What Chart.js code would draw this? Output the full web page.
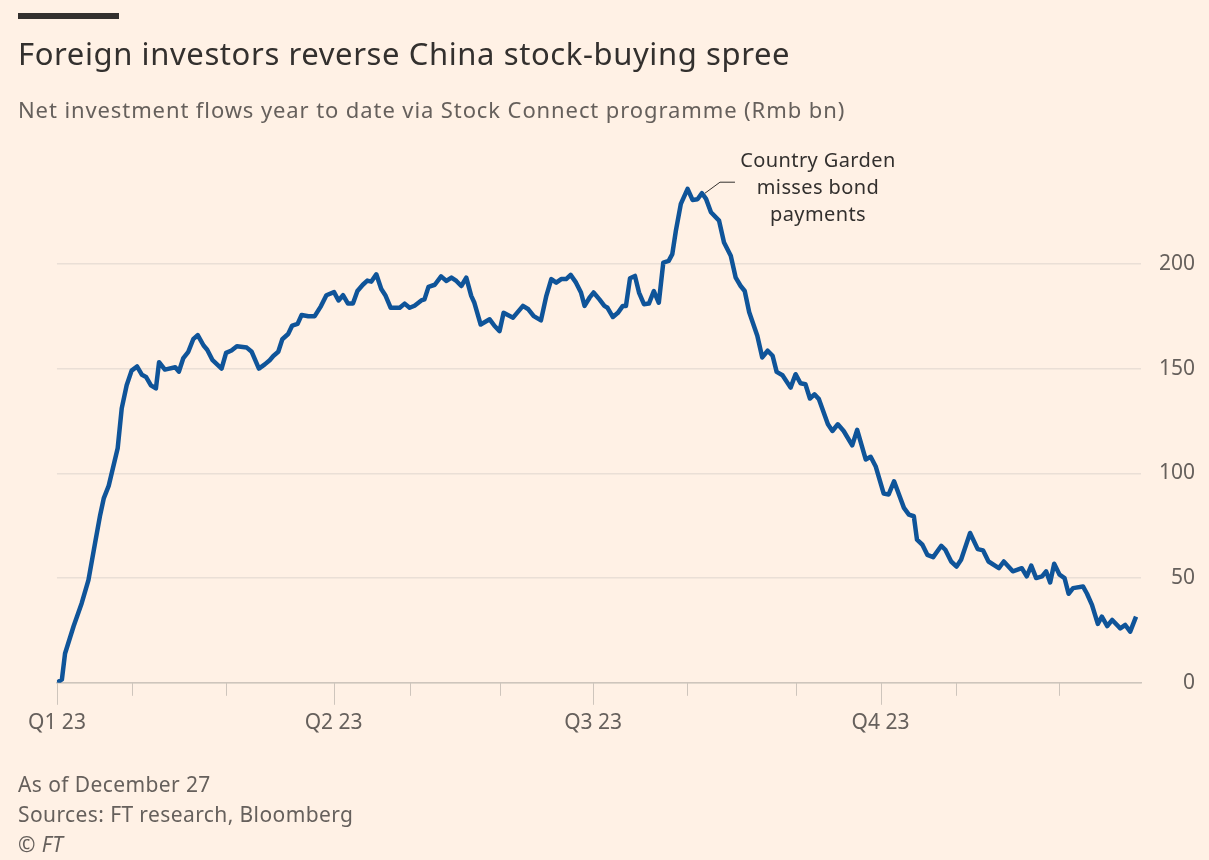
<!DOCTYPE html>
<html>
<head>
<meta charset="utf-8">
<script src="https://cdn.jsdelivr.net/npm/chart.js@4"></script>
<style>
  body { margin: 0; background: #fff1e5; font-family: "Noto Sans", sans-serif; }
  #page { position: relative; width: 1209px; height: 860px; overflow: hidden; }
  #bar { position: absolute; left: 18px; top: 13px; width: 101px; height: 6px; background: #33302e; }
  #title { position: absolute; left: 18px; top: 32px; font-size: 31px; letter-spacing: 0.6px; color: #33302e; white-space: nowrap; }
  #subtitle { position: absolute; left: 18px; top: 94px; font-size: 22px; letter-spacing: 0.9px; color: #66605c; white-space: nowrap; }
  #note { position: absolute; left: 698px; top: 146px; width: 240px; text-align: center; font-size: 20px; letter-spacing: 0.4px; line-height: 27px; color: #33302e; }
  #foot { position: absolute; left: 18px; top: 769px; font-size: 21px; letter-spacing: 0.4px; line-height: 30px; color: #66605c; }
  #wrap { position: absolute; left: 0; top: 0; width: 1209px; height: 860px; }
</style>
</head>
<body>
<div id="page">
  <div id="wrap"><canvas id="myChart"></canvas></div>
  <div id="bar"></div>
  <div id="title">Foreign investors reverse China stock-buying spree</div>
  <div id="subtitle">Net investment flows year to date via Stock Connect programme (Rmb bn)</div>
  <div id="note">Country Garden<br>misses bond<br>payments</div>
  <div id="foot">As of December 27<br>Sources: FT research, Bloomberg<br><i>© FT</i></div>
</div>
<script>
// x values are trading-day positions
var days = [0, 1.1, 1.8, 3.7, 5.5, 7, 8.5, 9.6, 10.4, 11.5, 13.5, 14.4, 15.5, 16.6, 17.8, 18.9, 19.8, 20.9, 22, 22.7,
	24, 26.3, 27.1, 28.1, 29.2, 30.3, 31.3, 32.6, 33.4, 34.6, 36.6, 37.6, 38.8, 40, 42.2, 43.3, 44.9, 46.2, 47.3, 48.1,
	49.2, 50.1, 51.4, 52.3, 53.5, 54.4, 55.9, 57.3, 58.7, 59.9, 61.6, 62.6, 63.6, 64.7, 65.8, 66.8, 68, 69, 69.9, 71,
	72.1, 73, 74.2, 76.2, 77.3, 78.4, 79.5, 81, 81.7, 82.6, 84, 85.4, 86.6, 87.7, 88.8, 89.9, 91, 92.1, 92.8, 94.2,
	96.2, 97.3, 98.4, 99.3, 101.4, 103.6, 104.8, 106, 107.6, 108.8, 109.9, 111, 112.1, 113.2, 114.2, 115.4, 116.5, 117.3, 118.4, 119.3,
	120.6, 121.7, 122.4, 123.6, 124.7, 125.8, 126.5, 127.4, 128.5, 129.4, 130.5, 131.6, 132.7, 133.8, 134.8, 136, 136.8, 137.6, 138.7, 140.2,
	141.3, 142.4, 143.4, 144.3, 145.4, 147.2, 148.3, 149.8, 150.9, 152, 152.9, 153.9, 155.7, 156.8, 158, 159.1, 160, 161.3, 163.1, 164.2,
	165.3, 166.4, 167.4, 168.4, 169.4, 171.4, 172.4, 173.6, 174.9, 176.8, 177.9, 179.8, 180.9, 182, 183.8, 184.9, 186.1, 188.3, 189.4, 190.5,
	191.2, 192.4, 193.5, 194.8, 196.6, 197.5, 198.8, 200, 201, 203, 204.7, 205.9, 207.1, 209.4, 210.5, 212.5, 214.5, 215.6, 216.6, 217.7,
	219, 219.9, 220.8, 221.7, 222.9, 224, 224.9, 225.9, 228.1, 229, 230.1, 231.4, 232.3, 233.5, 234.6, 236.4, 237.5, 238.6, 239.9];
var flows = [0, 1.6, 14, 27, 38, 49, 67, 80, 88, 94, 112, 131, 142, 149, 151, 147, 146, 142, 140.5, 153,
	149.5, 150.6, 148.5, 155, 158, 164, 166, 161, 159, 154, 150, 157.5, 158.6, 160.6, 160, 158, 150, 152, 154, 156,
	158, 164, 166.5, 170.5, 171.3, 175.6, 175, 175, 179.8, 185, 186.5, 182.5, 185, 181, 181, 187, 190, 192, 191.5, 195,
	188, 185, 179, 179, 181, 179, 180, 182.5, 183, 189, 190, 194, 191.8, 193.4, 191.8, 189.4, 193.4, 184.7, 181.4, 171,
	173.5, 170.3, 167.9, 176.6, 174.3, 179.9, 178.3, 175, 173, 184.7, 192.7, 191, 192.7, 192.7, 194.7, 191, 186.3, 179.9, 183.8, 186.3,
	183, 179.9, 179, 174.6, 176.6, 179.9, 179.9, 193.1, 194.2, 186.3, 180.7, 181, 187, 181.4, 200.6, 201.4, 204.6, 215.8, 228.6, 235.8,
	230.5, 230.8, 233.7, 231, 224.6, 220.6, 210.2, 203.8, 193.4, 189.4, 187, 176.9, 165.7, 155.3, 158.5, 156.1, 148.4, 146.8, 140.9, 147.3,
	143, 142.5, 135.7, 137.7, 135.4, 123.4, 120.2, 123.4, 120.2, 113.3, 120.7, 106.6, 107.9, 103.4, 90.3, 89.9, 96.2, 83.5, 80.3, 79.5,
	68.3, 65.9, 61.1, 60, 65.4, 63.5, 57.9, 55.5, 58.7, 71.5, 63.8, 63.2, 57.9, 54.7, 57.9, 53.2, 54.7, 50.8, 55.9, 50,
	50.8, 53.2, 47.9, 56.8, 51.6, 50, 42.5, 45.2, 46, 42.5, 37.2, 28.1, 31.6, 27.1, 30, 26, 27.6, 24.4, 31.6];

var monthTicks = [0, 16.6, 37.5, 61.5, 78.4, 98.4, 119.2, 140, 164.2, 183.1, 199.8, 222.8];
var quarterTicks = [0, 61.5, 119.2, 183.1];
var quarterLabels = ["Q1 23", "Q2 23", "Q3 23", "Q4 23"];
var yTicks = [0, 50, 100, 150, 200];
var notePoint = [143.4, 233.7];

var points = [];
for (var i = 0; i < days.length; i++) {
	points.push({x: days[i], y: flows[i]});
}

// month ticks below the axis, quarters longer
var tickPlugin = {
	id: 'tickMarks',
	afterDraw: function(chart) {
		var ctx = chart.ctx;
		var xs = chart.scales.x;
		var base = chart.chartArea.bottom;
		ctx.save();
		ctx.strokeStyle = '#cec5bc';
		ctx.lineWidth = 1;
		for (var t of monthTicks) {
			var px = Math.round(xs.getPixelForValue(t)) + 0.5;
			var len = quarterTicks.indexOf(t) >= 0 ? 22 : 13;
			ctx.beginPath();
			ctx.moveTo(px, base);
			ctx.lineTo(px, base + len);
			ctx.stroke();
		}
		// annotation leader
		var ax = xs.getPixelForValue(notePoint[0]) + 3;
		var ay = chart.scales.y.getPixelForValue(notePoint[1]);
		ctx.strokeStyle = '#33302e';
		ctx.beginPath();
		ctx.moveTo(ax, ay);
		ctx.lineTo(ax + 15, ay - 11);
		ctx.lineTo(ax + 30, ay - 11);
		ctx.stroke();
		ctx.restore();
	}
};

var chart = new Chart(document.getElementById('myChart'), {
	type: 'line',
	data: {
		datasets: [{
			data: points,
			borderColor: '#0f5499',
			borderWidth: 4.5,
			pointRadius: 0,
			tension: 0,
			borderJoinStyle: 'round',
			fill: false
		}]
	},
	options: {
		responsive: true,
		maintainAspectRatio: false,
		animation: false,
		layout: { padding: { left: 55, top: 180, right: 14, bottom: 96 } },
		plugins: { legend: { display: false }, tooltip: { enabled: false } },
		scales: {
			x: {
				type: 'linear',
				min: 0,
				max: 241,
				afterBuildTicks: function(s) { s.ticks = quarterTicks.map(function(v) { return {value: v}; }); },
				ticks: {
					callback: function(v) { return quarterLabels[quarterTicks.indexOf(v)]; },
					color: '#66605c',
					font: { family: 'Noto Sans', size: 21 },
					padding: 28,
					maxRotation: 0,
					autoSkip: false
				},
				grid: { display: false, drawTicks: false },
				border: { display: true, color: '#cec5bc', width: 1.5 }
			},
			y: {
				position: 'right',
				min: 0,
				max: 240,
				afterBuildTicks: function(s) { s.ticks = yTicks.map(function(v) { return {value: v}; }); },
				afterFit: function(s) { s.width = 54; },
				ticks: {
					color: '#66605c',
					font: { family: 'Noto Sans', size: 21 },
					crossAlign: 'far',
					padding: 8
				},
				grid: { color: '#eadfd6', drawTicks: false, lineWidth: 1.5 },
				border: { display: false }
			}
		}
	},
	plugins: [tickPlugin]
});
</script>
</body>
</html>
